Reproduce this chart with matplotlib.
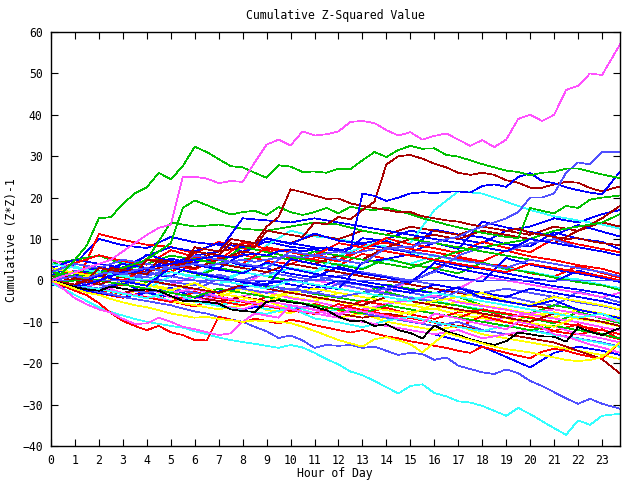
import numpy as np
import matplotlib
matplotlib.use("Agg")
import matplotlib.pyplot as plt

# hour grids (half-hourly for the stand-out walks, hourly for the crowd)
hours_fine = np.r_[np.arange(0, 23.5, 0.5), 23.75]
hours_coarse = np.r_[np.arange(0, 24), 23.75]

RED = '#ff0000'
GREEN = '#00c000'
BLUE = '#0000ff'
MAGENTA = '#ff50ff'
CYAN = '#33ffff'
DARKRED = '#a80000'
YELLOW = '#ffff00'
BLACK = '#000000'
LTBLUE = '#5050ff'

# ---- stand-out series (half-hourly) ----
magenta_top = [0, 1, 2, 3, 4, 5, 7, 9, 11, 12.7, 13.5, 25,
               25, 24.6, 23.5, 24, 23.8, 28.5, 32.8, 34, 32.6, 36, 35, 35.3,
               36, 38.3, 38.5, 38, 36.3, 35, 35.8, 34, 34.9, 35.5, 34, 32.5,
               33.9, 32.2, 34, 39, 40, 38.5, 40, 46, 47, 50, 49.6, 57]
green_top = [0, 2, 5, 8.5, 15, 15.3, 18.5, 21, 22.5, 26, 24.4, 27.6,
             32.3, 31, 29.3, 27.6, 27.3, 26, 24.8, 27.8, 27.5, 26.2, 26.3, 26,
             27, 26.9, 29, 31, 29.8, 31.5, 32.5, 31.8, 31.9, 30.3, 29.9, 29,
             28.1, 27.3, 26.5, 26.2, 25.4, 26, 26.2, 27, 27, 26.3, 25.6, 24.7]
green_2 = [0, -0.5, 0, 0.5, 1.5, 2.5, 3, 4, 5, 7, 9, 17.5,
           19.3, 18.2, 17, 15.9, 16.5, 16.8, 15.8, 17.7, 16.5, 15.8, 16.5, 17.5,
           16.2, 17.8, 17.2, 17, 17.6, 16.8, 16, 15, 14.3, 13.5, 12.8, 12.2,
           11.5, 11, 10.5, 10.2, 17.5, 16.8, 16.2, 18, 17.5, 19.5, 20, 20.5]
darkred_a = [0, -0.5, -1, 0, -0.5, 3, 2.5, 2, 1.5, 5, 4.5, 4,
             8, 7.5, 7, 10, 9.5, 9, 13, 15.3, 22, 21.3, 20.5, 19.7,
             19.8, 18.6, 18, 17.5, 17, 16.5, 16.5, 15.5, 15, 14.5, 14.2, 13.5,
             13, 12.5, 12, 12.5, 11.5, 11, 10.5, 10, 10.2, 9.5, 9, 8.5]
darkred_b = [0, 1, 0.5, 0, 3, 2.5, 2, 1.5, 5, 4.5, 4, 3.5,
             7, 6.5, 6, 9, 8.5, 8, 12, 11.5, 11, 10.5, 14, 13.5,
             15.3, 14.8, 17, 19, 28, 30, 30.3, 29.4, 28.2, 27.3, 26, 25.5,
             26, 25.5, 24.2, 23.6, 22.4, 22.4, 23.2, 23.8, 23.6, 22.3, 21.5, 22.7]
blue_a = [0, -1, -1.5, -1, 0, 1, 2, 2, 3, 3.5, 4, 4.5,
          5, 5.5, 6, 5.5, 6, 6.5, 6, 7, 7.5, 7, 7.5, 8,
          7.5, 7.5, 21, 20.4, 19.2, 20, 21, 21.3, 21.1, 21.4, 21.5, 21.2,
          22.8, 23.2, 22.6, 25, 25.9, 24, 23.5, 22.5, 21.8, 21.2, 20.8, 26.3]
ltblue_top = [0, 0.5, 1, 0.5, 1.5, 2, 1.5, 2.5, 3, 2.5, 3, 3.5,
              4, 3.5, 4, 4.5, 5, 4.5, 5, 5.5, 6, 5.5, 6, 6.5,
              7, 6.5, 7, 7.5, 7.5, 8, 8, 9, 9, 10, 10.5, 12,
              13, 14, 15, 16.5, 20, 20, 21, 26, 28.5, 28, 31, 31]
cyan_bottom = [-0.6, -2, -3.5, -5, -6.5, -7.6, -8.5, -9.3, -10, -10.5, -11, -11.4,
               -12.3, -13, -13.8, -14.4, -14.9, -15.3, -15.8, -16.3, -15.6, -16.2, -17.5, -19,
               -20.3, -22, -22.9, -24.3, -25.8, -27.3, -25.5, -25.1, -27.2, -28, -29.2, -29.5,
               -30.3, -31.5, -32.7, -30.8, -32.3, -34, -35.7, -37.3, -33.8, -34.9, -32.7, -32.2]
ltblue_bottom = [0, -0.8, -1.5, -2, -2.8, -3.3, -4, -4.5, -5, -5.5, -6, -6.8,
                 -7.5, -8, -8.8, -9.4, -10, -11.2, -12.3, -13.9, -13.3, -14.5, -16.3, -15.6,
                 -15.8, -15.6, -16.3, -16, -17, -18, -17.5, -17.8, -19.2, -18.6, -20.6, -21.4,
                 -22.2, -22.6, -21.5, -22.4, -24.3, -25.5, -27, -28.5, -29.8, -28.6, -29.8, -31]
red_low = [0, -1.3, -2.5, -3.6, -5.5, -7.9, -9.8, -11, -12, -11, -12.5, -13.2,
           -14.4, -14.5, -8.8, -9.5, -10.2, -9.2, -9.8, -10.4, -9.5, -10, -10.8, -11.4,
           -12, -12.6, -12, -12.8, -13.5, -14, -14.7, -15.2, -15.8, -16.3, -17, -17.5,
           -16, -16.8, -17.5, -18.2, -18.8, -17.2, -16.5, -17, -17.8, -18.4, -19, -15]
magenta_low = [0, -2, -4.3, -5.8, -7, -7.8, -9.3, -10.5, -10.4, -9, -10, -11.2,
               -11.8, -12.5, -13.2, -12.8, -10, -8, -8.5, -9, -6, -6.5, -7.2, -8,
               -8.5, -7, -7.5, -8, -8.6, -9.2, -9.8, -10.4, -8, -8.6, -9.2, -10,
               -10.6, -11.2, -11.8, -10, -10.6, -11.4, -13, -13.6, -14.5, -15.5, -16.2, -17.5]
black_line = [0, -0.8, -1.6, -2.2, -2.5, -1.5, -2, -2.4, -2.2, -2.5, -3.8, -4.9,
              -5, -5.2, -5.6, -7, -7.4, -7.6, -5.2, -4.8, -5.3, -5.6, -6.4, -7.2,
              -8.8, -9.8, -9.7, -11, -10.6, -12, -12.7, -14, -10.9, -12.3, -13.2, -14.2,
              -15, -15.6, -14.7, -12.6, -13, -13.5, -13.6, -14.8, -11.3, -12.4, -13.2, -11.5]
yellow_low = [0, -1, -2, -3, -3.5, -4.5, -5.3, -6, -6.5, -7.2, -8, -8.5,
              -9, -8.8, -9.3, -9.6, -10, -9.7, -9.8, -10, -10.3, -11.2, -12.2, -13.3,
              -14.4, -15.2, -16, -14.2, -13.7, -14.5, -15.4, -17.4, -15, -12.7, -13.5, -14.4,
              -15.2, -16, -16.6, -17, -17.4, -18, -18.6, -19.2, -19.5, -19.2, -18.5, -15]

# ---- the crowd (hourly) ----
crowd = [
    (BLUE,    [1, 4, 10, 8.5, 7.8, 10.5, 9.2, 8.6, 6.9, 9.4, 8.1, 7.5, 5.8, 10.2, 9.5, 7.6, 12.3, 11.1, 10.4, 8.7, 8.2, 11.6, 10.1, 9.3, 7.5]),
    (RED,     [0, -1.5, 11.2, 9.8, 8.6, 8.1, 6.5, 9.3, 7.7, 7.2, 5.4, 5.1, 3.6, 6.4, 5.2, 3.9, 2.8, 5.5, 4.1, 3.4, 1.7, 0.9, 3.5, 1.8, 0.6]),
    (CYAN,    [2, 3.4, 1.6, 4.2, 2.7, 2.1, 0.6, 4.3, 3.1, 8.4, 12, 10.6, 10.1, 8.7, 8.2, 6.6, 6.1, 4.7, 4.2, 2.6, 2.1, 0.8, 0.3, -1.2, -1.8]),
    (YELLOW,  [0, -1.2, -2.1, -3.4, -1.8, -4.1, -5.2, -5.9, -4.6, -7.2, -7.9, -5.6, -7.3, -8.1, -9.2, -7.5, -6.8, -8.3, -9.1, -10.2, -8.6, -7.7, -9.3, -10.1, -9.2]),
    (LTBLUE,  [3, 1.6, 1.2, 2.4, -0.2, -1.1, -2.3, 0.4, -1.2, -1.8, -3.1, 1.3, -0.4, -1.1, -2.3, -2.9, -4.2, -1.6, -3.2, -3.8, -5.1, -6.2, -2.7, -4.1, -5.3]),
    (GREEN,   [4, 5, 6, 4, 3, 2, 1, 3, 2, 1, 0, -1, -2, -3, -1, -2, -3, -4, -6, -7, -8, -6, -7, -8, -9]),
    (DARKRED, [0, 2, 1, 3, 4, 6, 5, 7, 8, 10, 9, 11, 10, 12, 11, 13, 12, 11, 13, 12, 11, 13, 12, 14, 13]),
    (BLUE,    [0, -2.2, -3.1, -0.7, 2.4, 5.3, 3.8, 2.9, 6.4, 10.2, 8.8, 11.3, 9.6, 8.9, 7.7, 6.8, 9.1, 7.6, 14.2, 12.8, 11.7, 10.9, 13.4, 11.8, 10.6]),
    (MAGENTA, [5, 3, 2, 1, 0, -1, 1, 0, -1, 2, 1, 0, -1, -2, -3, 0, -1, -2, 1, 0, -1, -2, -3, -4, -3]),
    (RED,     [0, -2.3, -3.1, -4.2, -2.6, -5.1, -6.3, -3.8, -5.2, -6.1, -7.4, -5.7, -7.2, -8.1, -6.6, -8.2, -9.3, -7.7, -6.9, -9.1, -10.4, -12.2, -10.6, -13.1, -14.2]),
    (CYAN,    [0, -1, -3, -4, -3, -5, -4, -6, -5, -7, -6, -8, -7, -5, -6, -4, -5, -6, -7, -8, -9, -10, -11, -12, -13]),
    (BLUE,    [2, 0.6, -0.3, 3.2, 1.7, 0.8, 4.4, 5.2, 3.6, 2.9, 1.6, 0.7, 3.3, 1.8, 0.9, -0.4, 2.3, 0.7, -0.3, 5.4, 3.8, 2.6, 1.7, 0.6, -0.4]),
    (YELLOW,  [0, -1, -2, 0, -1, -2, -3, -4, -2, -3, -4, -5, -3, -4, -5, -6, -7, -5, -6, -7, -8, -9, -7, -8, -9]),
    (GREEN,   [0, 1.3, 2.2, 0.8, -0.4, 3.1, 1.7, 0.6, -0.2, -1.4, -2.1, -3.3, -4.2, -5.1, -2.8, -4.3, -5.2, -6.1, -7.3, -8.2, -9.1, -10.4, -7.6, -9.2, -10.3]),
    (LTBLUE,  [0, -1, 0, -1, 1, 3, 2, 1, 0, 2, 1, 0, 1, 2, 1, 0, -1, -2, -3, -2, -3, -4, -5, -6, -7]),
    (RED,     [1, 2.3, 3.1, 1.7, 5.2, 3.8, 2.6, 5.4, 6.2, 4.7, 3.9, 6.3, 4.8, 8.4, 9.1, 7.6, 6.8, 5.7, 4.6, 7.2, 5.8, 4.9, 3.7, 2.8, 1.6]),
    (DARKRED, [0, -1, 2, 4, 3, 2, 5, 4, 3, 2, 4, 3, 2, 1, 0, -1, -2, -3, -4, -5, -6, -7, -8, -9, -10]),
    (BLUE,    [-1, -2, -3, -4, -3, -4, -5, -6, -7, -6, -7, -8, -9, -10, -11, -12, -13, -14.5, -16, -18.5, -21, -17.5, -16, -17, -18]),
    (MAGENTA, [0, -2.1, -0.8, -3.2, -1.7, -4.1, -2.6, -5.2, -3.8, -2.7, -4.3, -5.1, -6.4, -7.2, -5.6, -4.8, -3.7, -5.3, -6.2, -7.1, -8.3, -9.2, -10.1, -11.3, -12.1]),
    (CYAN,    [1, 0, 2, 1, 3, 2, 1, 0, 2, 1, 3, 2, 4, 3, 5, 4, 6, 5, 4, 3, 2, 1, 0, -1, -2]),
    (YELLOW,  [0, -1, -2, -3, -4, -5, -6, -7, -6, -5, -7, -8, -9, -8, -10, -11, -12, -11, -13, -14, -15, -16, -17, -18, -19]),
    (GREEN,   [0, 1.2, -0.3, 2.4, 4.1, 2.8, 5.3, 3.9, 8.2, 6.8, 5.7, 4.6, 3.8, 2.7, 5.3, 3.8, 2.9, 1.7, 4.3, 2.8, 1.9, 0.7, -0.4, -1.2, -2.3]),
    (BLUE,    [0, 1, 2, 4, 3, 2, 1, 0, -1, 0, -1, -2, 0, -1, -2, -3, -1, -2, -3, -4, -2, -3, -4, -5, -6]),
    (RED,     [0, -1, -2, -1, -2, -3, -4, -5, -6, -4, -5, -6, -7, -5, -6, -7, -8, -9, -7, -8, -9, -10, -11, -12, -13]),
    (LTBLUE,  [0, 2.3, 3.2, 1.6, 0.8, -0.3, -1.2, 1.4, -0.2, -1.1, -2.3, -3.2, -0.8, -2.1, -3.3, -4.2, -5.1, -2.6, -4.3, -5.2, -6.1, -3.8, -5.3, -6.2, -7.1]),
    (DARKRED, [0, -1, -2, -3, -2, -3, -4, -5, -4, -5, -6, -7, -8, -9, -8, -9, -10, -11, -12, -13, -14, -15, -17, -19, -22.5]),
    (BLUE,    [3, 5, 4, 3, 6, 8, 7, 9, 8, 10, 9, 8, 7, 9, 10, 12, 11, 10, 9, 12, 13, 15, 14, 16, 17]),
    (CYAN,    [0, 1, 0, -1, -2, 1, 0, -1, 2, 4, 3, 2, 6, 8, 10, 9, 17, 21.5, 21, 19, 17, 15.5, 14.5, 13.5, 12.5]),
    (MAGENTA, [0, -1, -2, -3, -4, -5, -4, -6, -7, -5, -6, -7, -8, -7, -6, -7, -8, -9, -10, -9, -8, -7, -8, -9, -10]),
    (RED,     [2, 4.2, 6.1, 4.6, 3.8, 7.3, 5.7, 4.8, 9.2, 7.6, 6.8, 5.7, 4.6, 7.4, 10.2, 8.7, 7.8, 6.6, 9.3, 7.9, 6.8, 10.1, 8.7, 7.6, 6.8]),
    (YELLOW,  [1, 0, 2, 1, 0, -1, -2, -3, -2, -4, -3, -2, -3, -4, -5, -6, -5, -4, -3, -5, -6, -4, -5, -6, -7]),
    (DARKRED, [0, 1, 2, 3, 2, 4, 3, 5, 7, 6, 5, 4, 6, 5, 8, 10, 11, 10, 12, 11, 10, 9, 12, 15, 18]),
    (BLUE,    [0, -1.2, -2.3, -0.6, -3.1, -1.8, -4.2, -2.7, -1.6, -0.8, 0.3, -1.2, -2.1, 4.3, 5.2, 6.3, 4.8, 3.6, 2.8, 1.7, 0.6, -0.3, 2.4, 0.8, -0.4]),
    (GREEN,   [1, 2, 3, 5, 4, 6, 5, 4, 5, 6, 5, 7, 6, 5, 4, 3, 5, 7, 8, 9, 10, 12, 13, 14, 16]),
    (LTBLUE,  [0, -1, -2, 0, 2, 1, 0, -1, -2, -3, -2, -3, -4, -3, -2, 0, 2, 6, 8, 7, 9, 10, 8, 7, 6]),
    (GREEN,   [0, 1, 2, 3, 5, 14, 13, 13.5, 12.5, 12, 13, 14, 13.5, 12, 11, 10, 9, 8, 7, 6, 5, 4, 3, 2, 1]),
    (BLUE,    [0, 2, 4, 3, 5, 4, 6, 7, 15, 14.5, 14, 15, 14, 13, 12, 11, 10, 9, 8, 7, 10, 9, 8, 7, 6]),
    (RED,     [0, -1.4, -2.2, -3.3, -4.1, -5.2, -2.8, -4.3, -5.1, -6.2, -7.3, -8.1, -5.7, -7.2, -8.3, -9.1, -10.2, -11.3, -8.6, -10.1, -11.2, -12.3, -13.1, -11.8, -14.2]),
    (LTBLUE,  [1, 0, -1, -2, -3, -2, -3, -4, -5, -6, -7, -6, -7, -8, -9, -10, -11, -10, -12, -13, -12, -13, -14, -15, -16]),
    (CYAN,    [0, -1.3, -2.1, -3.2, -4.3, -2.6, -5.1, -6.2, -7.3, -8.1, -6.6, -9.2, -10.1, -11.3, -9.7, -8.8, -10.1, -11.2, -12.3, -10.8, -12.1, -13.2, -14.1, -15.2, -16.1]),
    (MAGENTA, [2, 1, 0, -1, -2, -3, -2, -4, -5, -6, -7, -8, -9, -10, -11, -12, -13, -12, -14, -13, -12, -11, -13, -14, -15]),
    (BLUE,    [0, 1.2, 3.3, 1.8, 6.2, 4.7, 3.8, 2.6, 1.7, 4.3, 2.8, 1.6, 0.8, -0.3, -1.2, -2.3, -3.1, -1.7, -4.2, -5.1, -6.2, -4.8, -7.1, -8.2, -9.1]),
    (RED,     [0, 2, 1, 0, 3, 2, 6, 5, 4, 8, 7, 6, 9, 8, 7, 6, 5, 4, 3, 2, 4, 3, 2, 1, 0]),
    (GREEN,   [2, 1, 0, -1, -2, -3, -4, -2, -3, -4, -5, -6, -7, -8, -6, -7, -8, -9, -10, -11, -12, -11, -12, -13, -14]),
    (YELLOW,  [3, 1.8, 0.9, -0.3, -1.2, -2.4, -0.6, -3.2, -4.1, -5.3, -2.7, -4.2, -5.1, -6.3, -7.2, -8.1, -5.8, -7.3, -8.2, -9.1, -10.3, -11.2, -8.7, -10.2, -11.1]),
    (DARKRED, [1, 0, -1, 1, 0, -1, -2, -3, -1, -2, -3, -4, -5, -6, -4, -5, -6, -7, -8, -9, -10, -8, -9, -10, -11]),
    (CYAN,    [4, 3, 2, 1, 0, 2, 1, 0, -1, -2, 0, -1, -2, -3, -4, -5, -3, -4, -5, -6, -7, -8, -9, -8, -10]),
    (BLUE,    [0, -1.3, 1.2, -0.2, -1.3, 3.2, 1.8, 0.7, -0.4, -1.3, 5.2, 3.9, 2.8, 1.6, 0.7, -0.6, 4.2, 2.8, 1.7, 0.6, -0.3, -1.4, -2.2, -3.1, -4.2]),
    (LTBLUE,  [2, 4, 3, 5, 4, 3, 6, 5, 4, 3, 7, 6, 5, 4, 8, 7, 6, 5, 4, 3, 5, 4, 3, 2, 1]),
]
zero_line = [0] * 25

fine = [
    (GREEN, green_2), (DARKRED, darkred_a), (DARKRED, darkred_b), (BLUE, blue_a),
    (LTBLUE, ltblue_top), (CYAN, cyan_bottom), (LTBLUE, ltblue_bottom),
    (RED, red_low), (MAGENTA, magenta_low), (BLACK, black_line), (YELLOW, yellow_low),
    (GREEN, green_top), (MAGENTA, magenta_top),
]

font = 'DejaVu Sans Mono'
fs = 8.3

fig = plt.figure(figsize=(6.4, 4.8), dpi=100)
ax = fig.add_axes([51 / 640, 34 / 480, 569 / 640, 414 / 480])

lw = 0.5
for color, vals in crowd:
    ax.plot(hours_coarse, vals, color=color, lw=lw, antialiased=False)
ax.plot(hours_coarse, zero_line, color=LTBLUE, lw=lw, antialiased=False)
for color, vals in fine:
    ax.plot(hours_fine, vals, color=color, lw=lw, antialiased=False)

ax.set_xlim(0, 23.75)
ax.set_ylim(-40, 60)
ax.set_xticks(range(0, 24))
ax.set_yticks(range(-40, 61, 10))
ax.tick_params(direction='in', length=5, width=0.8, top=True, right=True,
               labelsize=fs, pad=6)
for lab in ax.get_xticklabels() + ax.get_yticklabels():
    lab.set_fontfamily(font)
for sp in ax.spines.values():
    sp.set_linewidth(1.0)

fig.text(335 / 640, 1 - 15 / 480, 'Cumulative Z-Squared Value', ha='center', va='center',
         family=font, fontsize=fs)
fig.text(335 / 640, 1 - 473 / 480, 'Hour of Day', ha='center', va='center',
         family=font, fontsize=fs)
fig.text(12 / 640, 1 - 240 / 480, 'Cumulative (Z*Z)-1', ha='center', va='center',
         rotation=90, family=font, fontsize=fs)

fig.savefig('out.png', dpi=100)
